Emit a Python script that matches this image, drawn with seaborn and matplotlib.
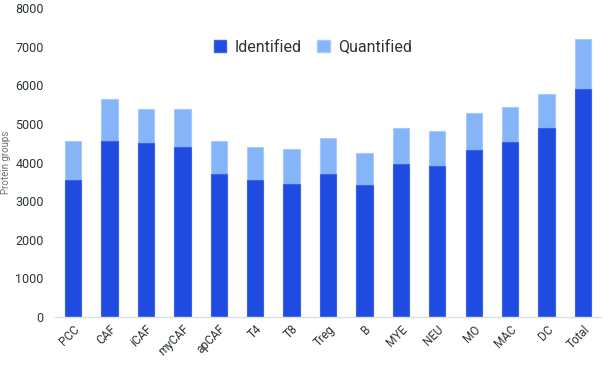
import pandas as pd
import matplotlib.pyplot as plt
import seaborn as sns
from matplotlib.patches import Patch

categories = ['PCC', 'CAF', 'iCAF', 'myCAF', 'apCAF', 'T4', 'T8', 'Treg', 'B',
              'MYE', 'NEU', 'MO', 'MAC', 'DC', 'Total']
identified = [3550, 4570, 4500, 4395, 3700, 3540, 3445, 3705, 3410,
              3965, 3905, 4320, 4525, 4905, 5905]
quantified = [4550, 5640, 5380, 5380, 4550, 4410, 4345, 4630, 4240,
              4895, 4820, 5285, 5450, 5775, 7210]

df = pd.DataFrame({'Category': categories, 'Identified': identified, 'Quantified': quantified})

dark_blue = '#1f4be0'
light_blue = '#86b4f9'
text_col = '#2b3438'

sns.set_style('white')
plt.rcParams['font.family'] = ['Roboto', 'DejaVu Sans']

fig = plt.figure(figsize=(6.03, 3.70), dpi=100)
ax = fig.add_axes([0.091, 0.143, 0.906, 0.835])

# quantified is the full bar height, identified drawn over it
sns.barplot(data=df, x='Category', y='Quantified', color=light_blue, width=0.45,
            edgecolor='#a9c8fb', linewidth=0.8, saturation=1, ax=ax)
sns.barplot(data=df, x='Category', y='Identified', color=dark_blue, width=0.45,
            edgecolor='#3a63e8', linewidth=0.8, saturation=1, ax=ax)

ax.set_ylim(0, 8000)
ax.set_xlim(-0.5, 14.5)
ax.set_yticks(range(0, 8001, 1000))
ax.set_xlabel('')
ax.set_ylabel('Protein groups', fontsize=7, color='#6d7478')
ax.yaxis.set_label_coords(-0.081, 0.5)
ax.tick_params(axis='y', length=0, pad=8, labelsize=9, labelcolor=text_col)
ax.tick_params(axis='x', length=0, pad=4, labelsize=8.5, labelcolor=text_col)
plt.setp(ax.get_xticklabels(), rotation=45, ha='right', rotation_mode='anchor')

sns.despine(ax=ax, left=True)
ax.spines['bottom'].set_color('#dde1e4')
ax.spines['bottom'].set_linewidth(1)

handles = [Patch(facecolor=dark_blue, edgecolor='#3a63e8', label='Identified'),
           Patch(facecolor=light_blue, edgecolor='#a9c8fb', label='Quantified')]
leg = ax.legend(handles=handles, loc='center', bbox_to_anchor=(0.472, 0.874), ncol=2,
                frameon=False, fontsize=11.5, handlelength=0.8, handleheight=0.8,
                handletextpad=0.5, columnspacing=1.0)
for t in leg.get_texts():
    t.set_color(text_col)

plt.savefig('out.png', dpi=100)
plt.close()
